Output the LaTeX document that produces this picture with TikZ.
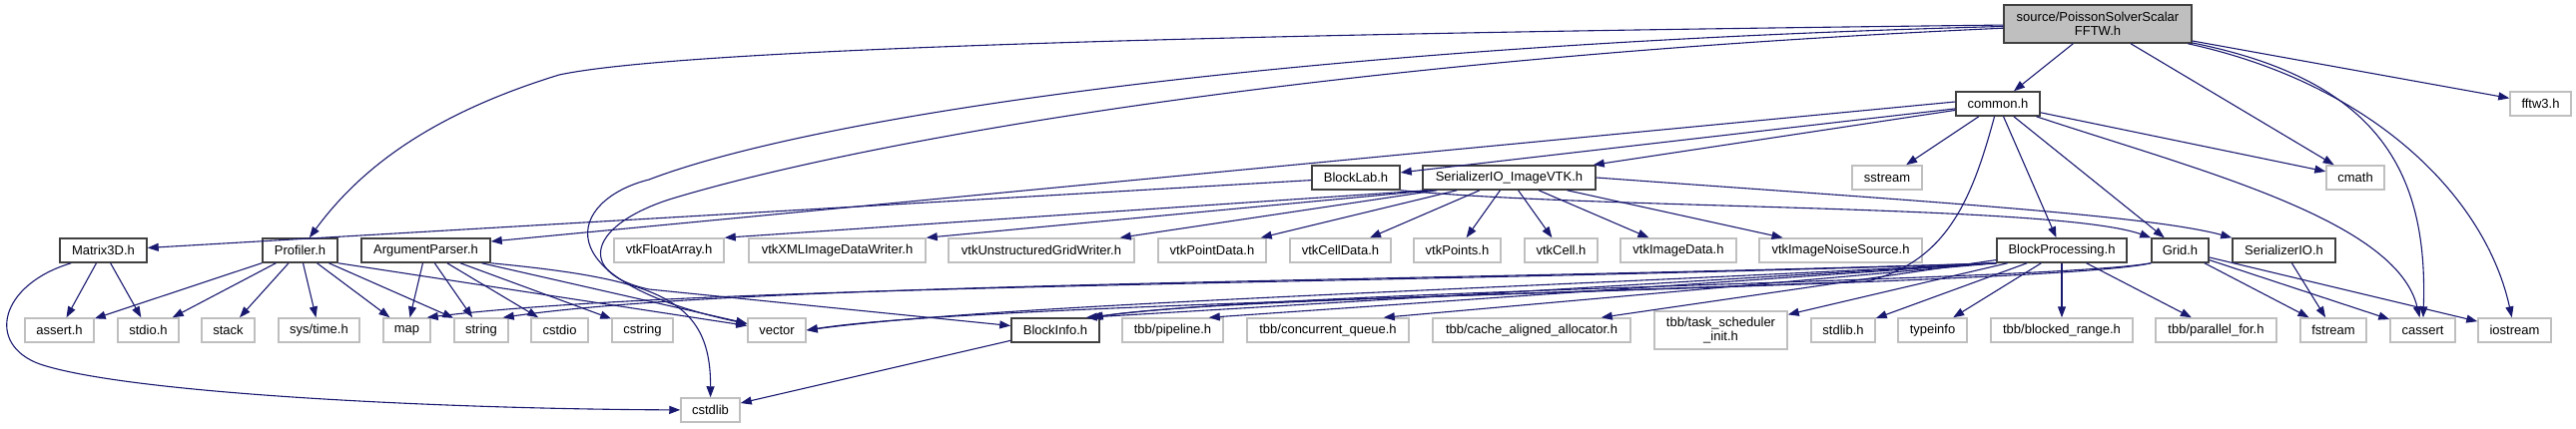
\documentclass[tikz,border=0pt]{standalone}
\usepackage{fontspec}
\setmainfont{Liberation Sans}
\usepackage{tikz}
\usetikzlibrary{arrows.meta}
\usepackage{xcolor}
\definecolor{edgeblue}{RGB}{25,25,112}
\definecolor{boxgrey}{RGB}{64,64,64}
\definecolor{sysgrey}{RGB}{191,191,191}
\definecolor{rootgrey}{RGB}{191,191,191}

\begin{document}
\begin{tikzpicture}[
    x=1pt, y=-1pt,
    every node/.style={font=\fontsize{13}{13.5}\selectfont, inner sep=0pt, minimum height=24pt, align=center},
    hdr/.style={rectangle, draw=boxgrey, line width=1.5pt, fill=white},
    rootfile/.style={hdr, fill=rootgrey, minimum height=38pt},
    sysfile/.style={rectangle, draw=sysgrey, line width=1.5pt, fill=white},
    dep/.style={draw=edgeblue, line width=1.1pt, -{Triangle[length=11pt,width=8pt]}}
]
    \useasboundingbox (0,0) rectangle (2580,429);

    % Root
    \node[rootfile, minimum width=188] (solver) at (2101,24) {source/PoissonSolverScalar\\FFTW.h};

    % Level 1
    \node[hdr, minimum width=84] (common) at (2001,104) {common.h};
    \node[sysfile, minimum width=61] (fftw) at (2544.5,104) {fftw3.h};

    % Level 2
    \node[hdr, minimum width=88] (blocklab) at (1358,178) {BlockLab.h};
    \node[hdr, minimum width=173] (vtkio) at (1511.5,178) {SerializerIO\_ImageVTK.h};
    \node[sysfile, minimum width=70] (sstream) at (1890,178) {sstream};
    \node[sysfile, minimum width=58] (cmath) at (2359,178) {cmath};

    % Level 3
    \node[hdr, minimum width=87] (matrix) at (103.5,251) {Matrix3D.h};
    \node[hdr, minimum width=75] (profiler) at (300.5,251) {Profiler.h};
    \node[hdr, minimum width=129] (argparser) at (426.5,251) {ArgumentParser.h};
    \node[sysfile, minimum width=110] (vtkfloat) at (670,251) {vtkFloatArray.h};
    \node[sysfile, minimum width=177] (vtkxml) at (838.5,251) {vtkXMLImageDataWriter.h};
    \node[sysfile, minimum width=186] (vtkugrid) at (1043,251) {vtkUnstructuredGridWriter.h};
    \node[sysfile, minimum width=108] (vtkpoint) at (1214,251) {vtkPointData.h};
    \node[sysfile, minimum width=101] (vtkcelldata) at (1342.5,251) {vtkCellData.h};
    \node[sysfile, minimum width=87] (vtkpoints) at (1459.5,251) {vtkPoints.h};
    \node[sysfile, minimum width=73] (vtkcell) at (1563.5,251) {vtkCell.h};
    \node[sysfile, minimum width=116] (vtkimage) at (1681,251) {vtkImageData.h};
    \node[sysfile, minimum width=163] (vtknoise) at (1843.5,251) {vtkImageNoiseSource.h};
    \node[hdr, minimum width=130] (blockproc) at (2065,251) {BlockProcessing.h};
    \node[hdr, minimum width=57] (grid) at (2183.5,251) {Grid.h};
    \node[hdr, minimum width=103] (serialio) at (2287.5,251) {SerializerIO.h};

    % Level 4
    \node[sysfile, minimum width=69] (assert) at (59.5,331) {assert.h};
    \node[sysfile, minimum width=61] (stdio) at (148.5,331) {stdio.h};
    \node[sysfile, minimum width=53] (stack) at (228.5,331) {stack};
    \node[sysfile, minimum width=81] (systime) at (319.5,331) {sys/time.h};
    \node[sysfile, minimum width=47] (map) at (407.5,331) {map};
    \node[sysfile, minimum width=54] (string) at (482,331) {string};
    \node[sysfile, minimum width=57] (cstdio) at (560.5,331) {cstdio};
    \node[sysfile, minimum width=61] (cstring) at (643.5,331) {cstring};
    \node[sysfile, minimum width=58] (vector) at (778,331) {vector};
    \node[hdr, minimum width=88] (blockinfo) at (1057,331) {BlockInfo.h};
    \node[sysfile, minimum width=101] (pipeline) at (1174.5,331) {tbb/pipeline.h};
    \node[sysfile, minimum width=162] (cqueue) at (1330,331) {tbb/concurrent\_queue.h};
    \node[sysfile, minimum width=198] (calloc) at (1534,331) {tbb/cache\_aligned\_allocator.h};
    \node[sysfile, minimum width=133, minimum height=38] (tsinit) at (1723.5,331) {tbb/task\_scheduler\\\_init.h};
    \node[sysfile, minimum width=64] (stdlib) at (1846,331) {stdlib.h};
    \node[sysfile, minimum width=69] (typeinfo) at (1935.5,331) {typeinfo};
    \node[sysfile, minimum width=142] (brange) at (2065,331) {tbb/blocked\_range.h};
    \node[sysfile, minimum width=121] (pfor) at (2219.5,331) {tbb/parallel\_for.h};
    \node[sysfile, minimum width=66] (fstream) at (2337,331) {fstream};
    \node[sysfile, minimum width=65] (cassert) at (2426.5,331) {cassert};
    \node[sysfile, minimum width=73] (iostream) at (2518.5,331) {iostream};

    % Level 5
    \node[sysfile, minimum width=59] (cstdlib) at (711.5,411) {cstdlib};

    % Edges - root
    \draw[dep] (solver) -- (common);
    \draw[dep] (solver) -- (cmath);
    \draw[dep] (solver) -- (fftw);
    \draw[dep] (solver) .. controls (2380,80) and (2432,170) .. (cassert);
    \draw[dep] (solver) .. controls (2380,85) and (2490,200) .. (iostream);
    \draw[dep] (solver) .. controls (1400,32) and (700,45) .. (560,75) .. controls (430,115) and (360,170) .. (profiler);
    \draw[dep] (solver) .. controls (1300,45) and (820,115) .. (650,180) .. controls (570,200) and (540,280) .. (vector);
    \draw[dep] (solver) .. controls (1300,60) and (850,145) .. (670,200) .. controls (585,228) and (580,275) .. (650,290) -- (blockinfo);

    % Edges - common.h
    \draw[dep] (common) -- (blocklab);
    \draw[dep] (common) -- (vtkio);
    \draw[dep] ([yshift=2]common.west) -- ([yshift=9]argparser.east);
    \draw[dep] (common) -- (sstream);
    \draw[dep] (common) -- (cmath);
    \draw[dep] (common) .. controls (2200,170) and (2400,220) .. (cassert);
    \draw[dep] (common) -- (blockproc);
    \draw[dep] (common) -- (grid);
    \draw[dep] (common) .. controls (1975,200) and (1950,262) .. (1870,282) .. controls (1500,296) and (1200,302) .. ([xshift=-8]blockinfo.north east);

    % Edges - BlockLab.h
    \draw[dep] (blocklab) -- (matrix);
    \draw[dep] (blocklab.south east) .. controls (1600,210) and (2060,205) .. (grid.north west);

    % Edges - SerializerIO_ImageVTK.h
    \draw[dep] ([xshift=6]vtkio.south west) -- (vtkfloat.north east);
    \draw[dep] ([xshift=10]vtkio.south west) -- (vtkxml.north east);
    \draw[dep] ([xshift=15]vtkio.south west) -- ([xshift=-15]vtkugrid.north east);
    \draw[dep] ([xshift=35]vtkio.south west) -- ([xshift=-6]vtkpoint.north east);
    \draw[dep] (vtkio) -- (vtkcelldata);
    \draw[dep] (vtkio) -- (vtkpoints);
    \draw[dep] (vtkio) -- (vtkcell);
    \draw[dep] (vtkio) -- (vtkimage);
    \draw[dep] (vtkio) -- (vtknoise);
    \draw[dep] (vtkio.east) .. controls (1900,200) and (2150,215) .. (serialio.north west);

    % Edges - Matrix3D.h
    \draw[dep] (matrix) -- (assert);
    \draw[dep] (matrix) -- (stdio);
    \draw[dep] ([xshift=12]matrix.south west) .. controls (0,285) and (-15,345) .. (40,365) .. controls (130,395) and (450,410) .. (cstdlib);

    % Edges - Profiler.h
    \draw[dep] (profiler) -- (assert);
    \draw[dep] (profiler) -- (stdio);
    \draw[dep] (profiler) -- (stack);
    \draw[dep] (profiler) -- (systime);
    \draw[dep] (profiler) -- (map);
    \draw[dep] (profiler) -- (string);
    \draw[dep] (profiler.south east) -- (vector);

    % Edges - ArgumentParser.h
    \draw[dep] (argparser) -- (map);
    \draw[dep] (argparser) -- (string);
    \draw[dep] (argparser) -- (cstdio);
    \draw[dep] (argparser) -- (cstring);
    \draw[dep] (argparser) -- (vector);
    \draw[dep] (argparser.south east) .. controls (660,280) and (712,300) .. (cstdlib);

    % Edges - BlockProcessing.h
    \draw[dep] (blockproc) -- (brange);
    \draw[dep] (blockproc) -- (pfor);
    \draw[dep] (blockproc) -- (typeinfo);
    \draw[dep] (blockproc) -- (stdlib);
    \draw[dep] (blockproc) -- (tsinit);
    \draw[dep] (blockproc) -- ([xshift=-30]calloc.north east);
    \draw[dep] (blockproc.south west) -- ([xshift=-26]cqueue.north east);
    \draw[dep] (blockproc.south west) -- ([xshift=-15]pipeline.north east);
    \draw[dep] (blockproc.south west) -- ([xshift=-14]blockinfo.north east);
    \draw[dep] (blockproc.south west) .. controls (1500,290) and (1000,305) .. (vector.east);
    \draw[dep] (blockproc.south west) .. controls (1400,285) and (700,285) .. ([xshift=-4]map.north east);
    \draw[dep] (blockproc.south west) .. controls (1400,283) and (750,283) .. ([xshift=-6]string.north east);

    % Edges - Grid.h
    \draw[dep] (grid) -- (fstream);
    \draw[dep] (grid) -- (cassert);
    \draw[dep] (grid) -- (iostream);
    \draw[dep] (grid.south west) .. controls (2050,282) and (1300,290) .. ([xshift=-10]blockinfo.north east);
    \draw[dep] (grid.south west) .. controls (2050,288) and (1000,300) .. (vector.east);

    % Edges - remaining
    \draw[dep] (serialio) -- (fstream);
    \draw[dep] (blockinfo) -- (cstdlib);
\end{tikzpicture}
\end{document}
